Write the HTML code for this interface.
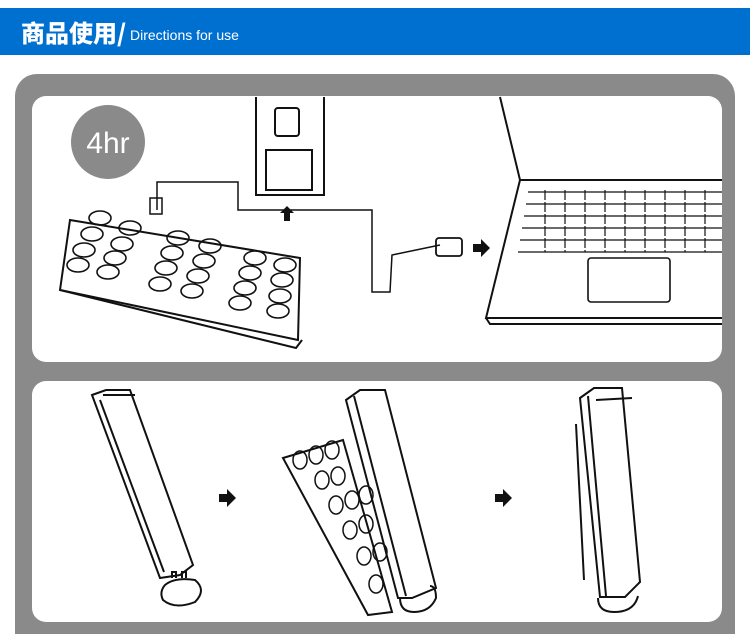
<!DOCTYPE html>
<html><head><meta charset="utf-8"><style>
body{margin:0;width:750px;height:629px;background:#fff;overflow:hidden;position:relative;font-family:"Liberation Sans","Noto Sans CJK SC",sans-serif}
.hdr{position:absolute;left:0;top:8px;width:750px;height:47px;background:#0070d0;color:#fff}
.hdr b{position:absolute;left:21px;top:9px;font-size:24px;font-family:"Noto Sans CJK SC",sans-serif;font-weight:900;line-height:30px;white-space:nowrap}
.hdr span{position:absolute;left:130px;top:19px;font-size:14px;white-space:nowrap}
.frame{position:absolute;left:15px;top:74px;width:720px;height:560px;background:#8a8a8a;border-radius:22px 22px 0 0}
.p{position:absolute;background:#fff;border-radius:14px}
svg{position:absolute;left:0;top:0}
</style></head><body>
<div class="hdr"><b>商品使用/</b><span>Directions for use</span></div>
<div class="frame"></div>
<div class="p" style="left:32px;top:96px;width:690px;height:266px"></div>
<div class="p" style="left:32px;top:381px;width:690px;height:241px"></div>
<svg width="750" height="629" fill="none" stroke="#111" stroke-width="2">
<circle cx="108" cy="142" r="37" fill="#8a8a8a" stroke="none"/>
<text x="108" y="153" fill="#fff" stroke="none" font-size="30" text-anchor="middle" font-family="Liberation Sans">4hr</text>
<path d="M70 220 L300 258 L298 340 L60 290 Z"/>
<path d="M60 290 L296 348 L302 340"/>
<g stroke-width="1.6">
<ellipse cx="100" cy="218" rx="11" ry="7"/><ellipse cx="92" cy="234" rx="11" ry="7"/><ellipse cx="84" cy="250" rx="11" ry="7"/><ellipse cx="78" cy="265" rx="11" ry="7"/>
<ellipse cx="130" cy="228" rx="11" ry="7"/><ellipse cx="122" cy="244" rx="11" ry="7"/><ellipse cx="115" cy="258" rx="11" ry="7"/><ellipse cx="108" cy="272" rx="11" ry="7"/>
<ellipse cx="178" cy="238" rx="11" ry="7"/><ellipse cx="172" cy="253" rx="11" ry="7"/><ellipse cx="166" cy="268" rx="11" ry="7"/><ellipse cx="160" cy="284" rx="11" ry="7"/>
<ellipse cx="210" cy="246" rx="11" ry="7"/><ellipse cx="204" cy="261" rx="11" ry="7"/><ellipse cx="198" cy="276" rx="11" ry="7"/><ellipse cx="192" cy="291" rx="11" ry="7"/>
<ellipse cx="255" cy="258" rx="11" ry="7"/><ellipse cx="250" cy="273" rx="11" ry="7"/><ellipse cx="245" cy="288" rx="11" ry="7"/><ellipse cx="240" cy="303" rx="11" ry="7"/>
<ellipse cx="285" cy="265" rx="11" ry="7"/><ellipse cx="282" cy="280" rx="11" ry="7"/><ellipse cx="280" cy="296" rx="11" ry="7"/><ellipse cx="278" cy="311" rx="11" ry="7"/>
</g>
<path d="M157 210 L157 182 L238 182 L238 210 L372 210 L372 292 L390 292 L392 255 L440 245" stroke-width="1.5"/>
<rect x="150" y="198" width="12" height="16" stroke-width="1.5"/>
<rect x="436" y="238" width="26" height="18" rx="3" stroke-width="1.8"/>
<path d="M473 244h8v-5l9 9-9 9v-5h-8z" fill="#111" stroke="none"/>
<path d="M256 97 V195 H324 V97" /><path d="M266 150 H312 V190 H266 Z" /><rect x="275" y="108" width="24" height="28" rx="3"/>
<path d="M280 213h4v8h6v-8h4l-7-7z" fill="#111" stroke="none"/>
<path d="M500 97 L520 180 L722 180"/>
<path d="M520 180 L486 318 L722 318"/><path d="M486 318 L490 324 L722 324"/>
<rect x="588" y="258" width="82" height="44" rx="3" stroke-width="1.6"/>
<g stroke-width="1.2">
<path d="M528 192H722M526 204H722M524 216H722M522 228H722M520 240H722M518 252H722"/>
<path d="M545 190v62M565 190v62M585 190v62M605 190v62M625 190v62M645 190v62M665 190v62M685 190v62M705 190v62" stroke-dasharray="10 2"/>
</g>
<path d="M92 395 L106 390 L130 390 L193 565 L180 575 L160 578 Z"/>
<path d="M100 400 L164 572 M103 395 L135 395"/>
<path d="M165 585 q10 -8 30 -5 q12 10 0 22 q-20 8 -32 -2 q-4 -8 2 -15z"/>
<path d="M172 578v-6h4v6M182 578v-6h4v6"/>
<path d="M219 494h8v-5l9 9-9 9v-5h-8z" fill="#111" stroke="none"/>
<path d="M495 494h8v-5l9 9-9 9v-5h-8z" fill="#111" stroke="none"/>
<path d="M283 458 L343 440 L392 612 L368 615 Z"/>
<g stroke-width="1.5">
<ellipse cx="300" cy="460" rx="7" ry="9"/><ellipse cx="316" cy="455" rx="7" ry="9"/><ellipse cx="332" cy="450" rx="7" ry="9"/>
<ellipse cx="322" cy="480" rx="7" ry="9"/><ellipse cx="338" cy="476" rx="7" ry="9"/>
<ellipse cx="336" cy="505" rx="7" ry="9"/><ellipse cx="352" cy="500" rx="7" ry="9"/><ellipse cx="366" cy="495" rx="7" ry="9"/>
<ellipse cx="350" cy="530" rx="7" ry="9"/><ellipse cx="366" cy="524" rx="7" ry="9"/>
<ellipse cx="364" cy="556" rx="7" ry="9"/><ellipse cx="380" cy="552" rx="7" ry="9"/>
<ellipse cx="376" cy="584" rx="7" ry="9"/>
</g>
<path d="M346 400 L360 390 L385 390 L436 588 L412 598 L398 598 Z"/>
<path d="M354 396 L406 596"/>
<path d="M400 598 q0 14 14 14 q16 0 22 -14 q0 -12 -6 -12"/>
<path d="M580 398 L594 388 L622 388 L640 582 L625 597 L600 597 Z"/>
<path d="M588 396 L606 596 M596 400 L632 398 M576 424 L584 580"/>
<path d="M598 598 q0 14 16 14 q20 0 24 -16"/>
</svg>
</body></html>
